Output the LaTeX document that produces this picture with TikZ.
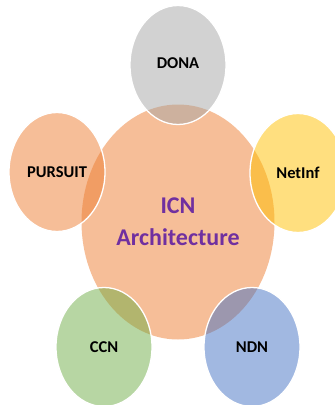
\documentclass[tikz,border=0pt]{standalone}
\usepackage{fontspec}
\setmainfont{Carlito}
\usetikzlibrary{shapes.geometric}
\definecolor{icnorange}{HTML}{ED7D31}
\definecolor{icngray}{HTML}{A5A5A5}
\definecolor{icngold}{HTML}{FFC000}
\definecolor{icngreen}{HTML}{70AD47}
\definecolor{icnblue}{HTML}{4472C4}
\definecolor{icnpurple}{HTML}{7030A0}
\begin{document}
\begin{tikzpicture}[x=1pt, y=-1pt,
    hub/.style={ellipse, fill=icnorange, fill opacity=0.5, text opacity=1,
        minimum width=193pt, minimum height=235pt, inner sep=0pt,
        text=icnpurple, font=\fontsize{24}{30}\selectfont\bfseries, align=center},
    petal/.style={ellipse, fill=#1, fill opacity=0.5, text opacity=1,
        draw=white, draw opacity=1, line width=1.3pt,
        minimum width=96pt, minimum height=119pt, inner sep=0pt,
        font=\fontsize{16.5}{20}\selectfont\bfseries}]
    % Page frame
    \useasboundingbox (0, 0) rectangle (335, 405);
    % Centres
    \coordinate (chub) at (178, 222);
    \coordinate (cdona) at (178, 65);
    \coordinate (cpursuit) at (57, 172);
    \coordinate (cnetinf) at (298, 173);
    \coordinate (cccn) at (104, 347);
    \coordinate (cndn) at (252, 347);
    % Draw the hub
    \node [hub] (icn) at (chub) {ICN\\[2pt]Architecture};
    % Draw the petals
    \node [petal=icngray] (dona) at (cdona) {\raisebox{4pt}{DONA}};
    \node [petal=icnorange] (pursuit) at (cpursuit) {PURSUIT};
    \node [petal=icngold] (netinf) at (cnetinf) {NetInf};
    \node [petal=icngreen] (ccn) at (cccn) {CCN};
    \node [petal=icnblue] (ndn) at (cndn) {NDN};
\end{tikzpicture}
\end{document}
